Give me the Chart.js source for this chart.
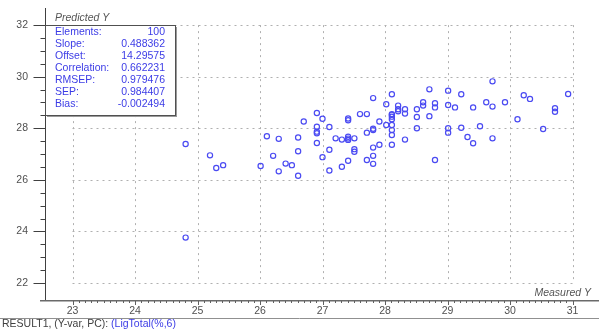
<!DOCTYPE html>
<html>
<head>
<meta charset="utf-8">
<script src="https://cdn.jsdelivr.net/npm/chart.js@4.4.1/dist/chart.umd.min.js"></script>
<style>
body { margin: 0; background: #fff; }
#wrap { position: relative; width: 599px; height: 331px; }
</style>
</head>
<body>
<div id="wrap"><canvas id="chart" width="599" height="331"></canvas></div>
<script>
// measured vs predicted values
const measured = [
  24.81, 24.81, 25.20, 25.30, 25.41, 26.01, 26.11, 26.30, 26.21, 26.41,
  26.30, 26.51, 26.61, 26.61, 26.61, 26.70, 26.91, 26.91, 26.91, 26.91,
  26.91, 27.00, 27.00, 27.11, 27.11, 27.11, 27.21, 27.31, 27.31, 27.41,
  27.41, 27.41, 27.41, 27.41, 27.51, 27.51, 27.51, 27.60, 27.71, 27.71,
  27.71, 27.81, 27.81, 27.81, 27.81, 27.81, 27.81, 27.91, 27.91, 28.02,
  28.02, 28.11, 28.11, 28.11, 28.11, 28.11, 28.11, 28.11, 28.11, 28.21,
  28.21, 28.21, 28.32, 28.32, 28.32, 28.51, 28.51, 28.51, 28.61, 28.61,
  28.71, 28.71, 28.80, 28.80, 28.80, 29.01, 29.01, 29.01, 29.01, 29.22,
  29.12, 29.22, 29.32, 29.41, 29.41, 29.52, 29.62, 29.72, 29.72, 29.72,
  29.92, 30.12, 30.22, 30.32, 30.53, 30.72, 30.72, 30.93, 28.11, 27.41
];
const predicted = [
  27.39, 23.76, 26.95, 26.46, 26.57, 26.54, 27.69, 27.59, 26.93, 26.63,
  26.33, 26.57, 27.64, 27.11, 26.16, 28.26, 28.59, 28.06, 27.87, 27.81,
  27.43, 28.37, 26.88, 28.05, 27.17, 26.36, 27.61, 27.56, 26.51, 28.38,
  28.31, 27.67, 27.55, 26.74, 27.61, 27.19, 27.09, 28.55, 28.55, 27.83,
  26.77, 29.17, 27.98, 27.93, 27.25, 26.93, 26.62, 28.26, 27.36, 28.93,
  28.13, 29.32, 28.55, 28.45, 28.35, 28.13, 27.93, 27.74, 27.36, 28.88,
  28.74, 28.66, 28.74, 28.57, 27.56, 28.74, 28.44, 28.00, 29.01, 28.88,
  29.51, 28.47, 28.97, 28.81, 26.77, 29.46, 28.90, 28.00, 27.83, 29.32,
  28.81, 28.02, 27.66, 28.81, 27.42, 28.08, 29.01, 29.82, 28.84, 27.61,
  29.01, 28.35, 29.28, 29.14, 27.97, 28.78, 28.64, 29.33, 28.52, 27.60
];

const xTicks = [23, 24, 25, 26, 27, 28, 29, 30, 31];
const yTicks = [22, 24, 26, 28, 30, 32];

const statLabels = ['Elements:', 'Slope:', 'Offset:', 'Correlation:', 'RMSEP:', 'SEP:', 'Bias:'];
const statValues = ['100', '0.488362', '14.29575', '0.662231', '0.979476', '0.984407', '-0.002494'];

const FONT = '"Liberation Sans", Arial, sans-serif';
const BLUE = '#3c3ce6';

const points = measured.map((m, i) => ({ x: m, y: predicted[i] }));

// grid, axis lines, minor ticks, stats box and captions
const decor = {
  id: 'decor',
  beforeDatasetsDraw(chart) {
    const { ctx, scales: { x, y } } = chart;
    ctx.save();
    ctx.lineWidth = 1;
    ctx.strokeStyle = '#b0b0b0';
    ctx.setLineDash([2, 4]);
    const gx0 = x.getPixelForValue(xTicks[0]);
    const gx1 = x.getPixelForValue(xTicks[xTicks.length - 1]);
    const gy0 = y.getPixelForValue(yTicks[0]);
    const gy1 = y.getPixelForValue(yTicks[yTicks.length - 1]);
    yTicks.forEach(v => {
      const py = Math.round(y.getPixelForValue(v)) + 0.5;
      ctx.beginPath(); ctx.moveTo(gx0, py); ctx.lineTo(gx1, py); ctx.stroke();
    });
    xTicks.forEach(v => {
      const px = Math.round(x.getPixelForValue(v)) + 0.5;
      ctx.beginPath(); ctx.moveTo(px, gy1); ctx.lineTo(px, gy0); ctx.stroke();
    });
    ctx.setLineDash([]);
    ctx.restore();
  },
  afterDraw(chart) {
    const { ctx, chartArea, scales: { x, y } } = chart;
    const W = chart.width;
    ctx.save();
    ctx.lineWidth = 1;

    // y axis line and ticks
    const ax = chartArea.left + 0.5;
    ctx.strokeStyle = '#404040';
    ctx.beginPath(); ctx.moveTo(ax, chartArea.top); ctx.lineTo(ax, chartArea.bottom); ctx.stroke();
    for (let v = yTicks[0]; v <= yTicks[yTicks.length - 1] + 0.001; v += 0.5) {
      const py = Math.round(y.getPixelForValue(v)) + 0.5;
      const major = yTicks.includes(v);
      ctx.beginPath(); ctx.moveTo(ax - (major ? 12 : 5), py); ctx.lineTo(ax, py); ctx.stroke();
    }

    // x axis line (double) and ticks
    const by = chartArea.bottom;
    ctx.strokeStyle = '#6a6a6a';
    ctx.beginPath(); ctx.moveTo(40, by + 0.5); ctx.lineTo(W, by + 0.5); ctx.stroke();
    ctx.strokeStyle = '#b4b4b4';
    ctx.beginPath(); ctx.moveTo(40, by + 1.5); ctx.lineTo(W, by + 1.5); ctx.stroke();
    ctx.strokeStyle = '#606060';
    for (let k = 0; k <= (xTicks[xTicks.length - 1] - xTicks[0]) * 10; k++) {
      const v = xTicks[0] + k / 10;
      const px = Math.round(x.getPixelForValue(v)) + 0.5;
      const major = k % 10 === 0;
      ctx.beginPath(); ctx.moveTo(px, by + 1); ctx.lineTo(px, by + (major ? 5 : 3)); ctx.stroke();
    }

    // x tick labels
    ctx.font = '10.5px ' + FONT;
    ctx.fillStyle = '#505050';
    ctx.textAlign = 'center';
    ctx.textBaseline = 'middle';
    xTicks.forEach(v => ctx.fillText(String(v), x.getPixelForValue(v), by + 11.5));

    // status bar separator
    ctx.strokeStyle = '#909090';
    ctx.beginPath(); ctx.moveTo(0, 318.5); ctx.lineTo(W, 318.5); ctx.stroke();

    // axis captions
    ctx.font = 'italic 10.5px ' + FONT;
    ctx.fillStyle = '#555';
    ctx.textBaseline = 'alphabetic';
    ctx.textAlign = 'left';
    ctx.fillText('Predicted Y', chartArea.left + 10, 21);
    ctx.textAlign = 'right';
    ctx.fillText('Measured Y', W - 8, 296);

    // stats box
    const bx = chartArea.left, bTop = Math.round(y.getPixelForValue(32)), bw = 130, bh = 90;
    ctx.fillStyle = '#9a9a9a';
    ctx.fillRect(bx + 2, bTop + 2, bw, bh);
    ctx.fillStyle = '#fff';
    ctx.fillRect(bx, bTop, bw, bh);
    ctx.strokeStyle = '#505050';
    ctx.strokeRect(bx + 0.5, bTop + 0.5, bw, bh);
    ctx.font = '10.5px ' + FONT;
    ctx.fillStyle = BLUE;
    ctx.textBaseline = 'middle';
    statLabels.forEach((lab, i) => {
      const ty = bTop + 7.5 + i * 12;
      ctx.textAlign = 'left';
      ctx.fillText(lab, bx + 10, ty);
      ctx.textAlign = 'right';
      ctx.fillText(statValues[i], bx + bw - 10, ty);
    });

    // status line
    ctx.textAlign = 'left';
    ctx.textBaseline = 'middle';
    ctx.fillStyle = '#404040';
    const pre = 'RESULT1, (Y-var, PC): ';
    ctx.fillText(pre, 2, 324);
    ctx.fillStyle = BLUE;
    ctx.fillText('(LigTotal(%,6)', 2 + ctx.measureText(pre).width, 324);
    ctx.restore();
  }
};

new Chart(document.getElementById('chart'), {
  type: 'scatter',
  data: {
    datasets: [{
      data: points,
      pointStyle: 'circle',
      pointRadius: 2.6,
      pointBorderWidth: 1.2,
      borderColor: '#4a4af2',
      backgroundColor: 'rgba(255,255,255,0)'
    }]
  },
  options: {
    responsive: false,
    animation: false,
    devicePixelRatio: 1,
    layout: { autoPadding: false, padding: { top: 8, right: 0, left: 0, bottom: 0 } },
    plugins: { legend: { display: false }, tooltip: { enabled: false } },
    scales: {
      x: {
        type: 'linear',
        min: 22.56,
        max: 31.424,
        border: { display: false },
        grid: { display: false, drawTicks: false },
        afterBuildTicks: s => { s.ticks = xTicks.map(v => ({ value: v })); },
        afterFit: s => { s.height = 31; s.paddingLeft = 0; s.paddingRight = 0; },
        ticks: { display: false }
      },
      y: {
        type: 'linear',
        min: 21.341,
        max: 32.664,
        border: { display: false },
        grid: { display: false, drawTicks: false },
        afterBuildTicks: s => { s.ticks = yTicks.map(v => ({ value: v })); },
        afterFit: s => { s.width = 45; s.paddingTop = 0; s.paddingBottom = 0; },
        ticks: { autoSkip: false, padding: 17, color: '#505050', font: { family: FONT, size: 10.5 } }
      }
    }
  },
  plugins: [decor]
});
</script>
</body>
</html>
